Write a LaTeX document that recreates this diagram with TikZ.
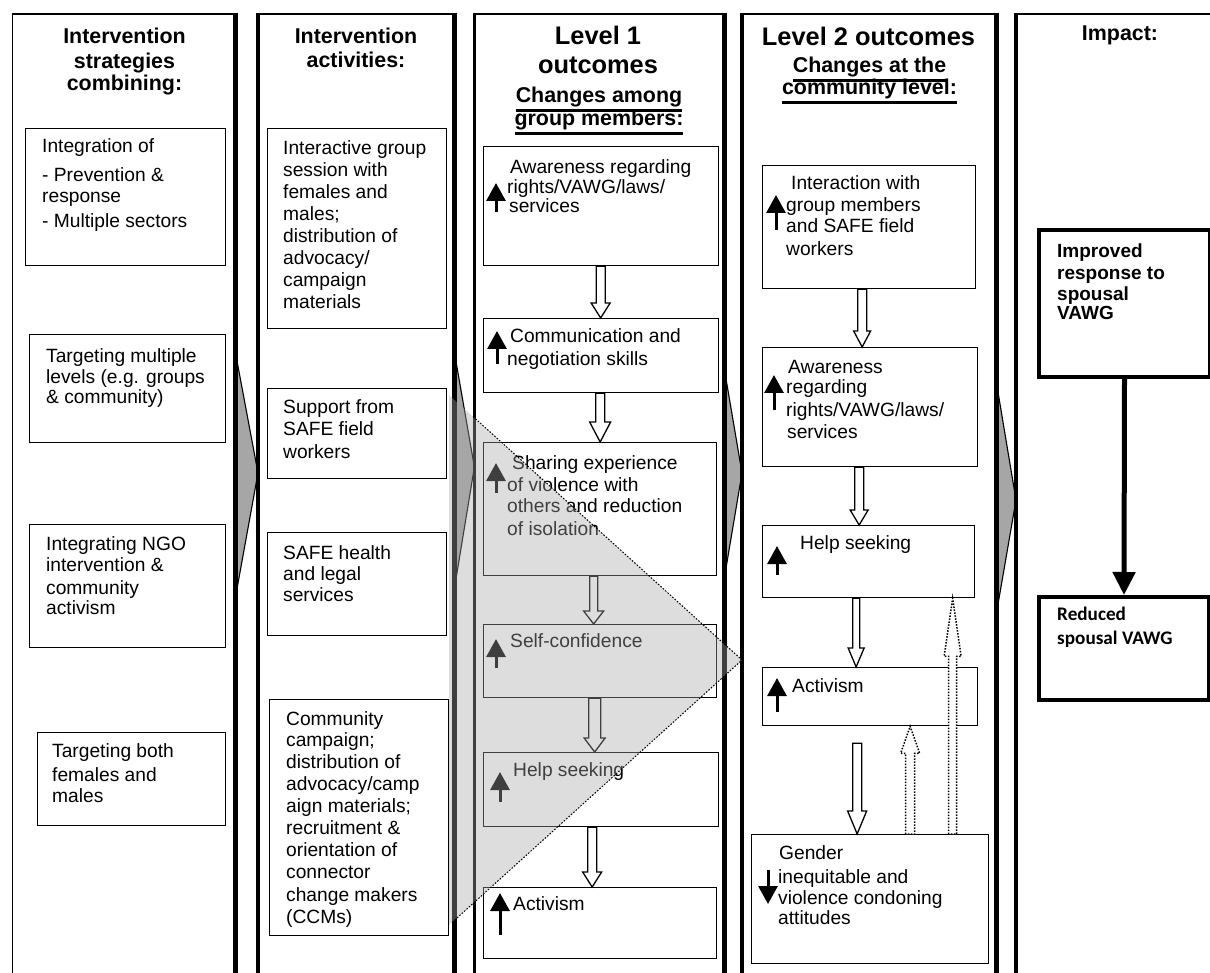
\documentclass[tikz,border=0pt]{standalone}
\usepackage{fontspec}
\setmainfont{Liberation Sans}
\newfontfamily\carlito{Carlito}
\usetikzlibrary{arrows.meta,calc}
\newsavebox\ulbox
\newcommand\thul[1]{\sbox\ulbox{#1}\rlap{\raisebox{-9.3pt}[0pt][0pt]{\rule{\wd\ulbox}{2.8pt}}}\usebox\ulbox}
\begin{document}
\begin{tikzpicture}[x=1pt,y=-1pt,
  box/.style={draw, fill=white, line width=1.3pt, inner sep=0pt, anchor=north west},
  ibox/.style={box, line width=4pt},
  txt/.style={anchor=base west, align=left, inner sep=0pt, font=\fontsize{19.2}{22}\selectfont},
  hdr/.style={anchor=base, align=center, inner sep=0pt, font=\bfseries\fontsize{21.4}{24}\selectfont},
  bighdr/.style={anchor=base, align=center, inner sep=0pt, font=\bfseries\fontsize{25.4}{29}\selectfont},
  chev/.style={draw=black, line width=1.1pt, fill=black!35},
  pan/.style={line width=2pt},
  panleft/.style={line width=4pt},
  panthick/.style={line width=5pt},
  hollow/.style={draw, fill=white, line width=1.3pt, line join=miter},
  dhollow/.style={draw, fill=white, line width=1.5pt, dash pattern=on 1.5pt off 1.5pt},
  icon/.style={line width=3pt, -{Triangle[width=19pt,length=18pt]}},
  blockdown/.style n args={3}{to path={let \p1=(\tikztostart), \p2=(\tikztotarget) in
     (\x1-#1pt,\y1) -- (\x1-#1pt,\y2+#3pt) -- (\x1-#2pt,\y2+#3pt) -- (\x1,\y2)
     -- (\x1+#2pt,\y2+#3pt) -- (\x1+#1pt,\y2+#3pt) -- (\x1+#1pt,\y1) -- cycle}},
  blockup/.style n args={3}{to path={let \p1=(\tikztostart), \p2=(\tikztotarget) in
     (\x1-#1pt,\y1) -- (\x1-#1pt,\y2-#3pt) -- (\x1-#2pt,\y2-#3pt) -- (\x1,\y2)
     -- (\x1+#2pt,\y2-#3pt) -- (\x1+#1pt,\y2-#3pt) -- (\x1+#1pt,\y1) -- cycle}},
]
\path[use as bounding box] (0,0) rectangle (1210,973);
\clip (0,0) rectangle (1210,973);
\fill[white] (0,0) rectangle (1210,973);

% chevrons between panels
\path[chev] (235.5,353) -- (258,473) -- (235.5,597);
\path[chev] (454.5,353) -- (474.4,467) -- (454.5,588);
\path[chev] (724,367) -- (742,473) -- (724,580);
\path[chev] (996.5,383) -- (1016,500) -- (996.5,613);

% panels (open at the bottom)
\draw[line width=1.8pt] (12.5,990) -- (12.5,13.8) -- (235.5,13.8);
\draw[panthick] (235.5,12.8) -- (235.5,990);
\draw[pan] (258,13.8) -- (454.5,13.8);
\draw[panleft] (258,12.8) -- (258,990);
\draw[panthick] (454.5,12.8) -- (454.5,990);
\draw[pan] (474.4,13.8) -- (724,13.8);
\draw[line width=3.5pt] (474.4,12.8) -- (474.4,990);
\draw[panthick] (724,12.8) -- (724,990);
\draw[pan] (742,13.8) -- (996.5,13.8);
\draw[panleft] (742,12.8) -- (742,990);
\draw[panthick] (996.5,12.8) -- (996.5,990);
\draw[pan] (1016,13.8) -- (1215,13.8);
\draw[panleft] (1016,12.8) -- (1016,990);

% headers (anchor = baseline of last line)
\node[hdr] (h1) at (124.5,90.5) {Intervention\\[1pt]strategies\\[-2pt]combining:};
\node[hdr] (h2) at (356,67.5) {Intervention\\activities:};
\node[bighdr] (h3) at (598,74) {Level 1\\outcomes};
\node[hdr] (h3s) at (599,126) {\thul{Changes among}\\[-1pt]\thul{group members:}};
\node[bighdr] (h4) at (868.5,46) {Level 2 outcomes};
\node[hdr] (h4s) at (869.5,95) {\thul{Changes at the}\\[-2pt]\thul{community level:}};
\node[hdr] (h5) at (1120,41) {Impact:};

% column 1 boxes
\node[box, minimum width=200pt, minimum height=137pt] (A) at (25,128) {};
\node[box, minimum width=196pt, minimum height=108pt] (B) at (29,334) {};
\node[box, minimum width=196pt, minimum height=123pt] (C) at (29,524) {};
\node[box, minimum width=188pt, minimum height=93pt] (D) at (37,732) {};
% column 2 boxes
\node[box, minimum width=179pt, minimum height=200pt] (E) at (267,128) {};
\node[box, minimum width=179pt, minimum height=90pt] (F) at (267,388) {};
\node[box, minimum width=179pt, minimum height=103pt] (G) at (267,532) {};
\node[box, minimum width=179pt, minimum height=236pt] (H) at (269,699) {};
% column 3 boxes
\node[box, minimum width=235pt, minimum height=119pt] (L1a) at (483,146) {};
\node[box, minimum width=235pt, minimum height=74pt] (L1b) at (483,318) {};
\node[box, minimum width=233pt, minimum height=133pt] (L1c) at (483,442) {};
\node[box, minimum width=233pt, minimum height=73pt] (L1d) at (483,624) {};
\node[box, minimum width=235pt, minimum height=74pt] (L1e) at (483,752) {};
\node[box, minimum width=233pt, minimum height=71pt] (L1f) at (483,887) {};
% column 4 boxes
\node[box, minimum width=213pt, minimum height=123pt] (L2a) at (762,165) {};
\node[box, minimum width=215pt, minimum height=119pt] (L2b) at (762,347) {};
\node[box, minimum width=212pt, minimum height=72pt] (L2c) at (762,525) {};
\node[box, minimum width=215pt, minimum height=58pt] (L2d) at (762,667) {};
\node[box, minimum width=237pt, minimum height=129pt] (L2e) at (751,834) {};
% column 5 boxes
\node[ibox, minimum width=171pt, minimum height=147pt] (I1) at (1037,228) {};
\node[ibox, minimum width=170pt, minimum height=103pt] (I2) at (1037,595) {};

% block arrows
\draw[hollow] ([xshift=-0.5pt]L1a.south) to[blockdown={4.5}{9.5}{15}] (L1b.north);
\draw[hollow] ([xshift=-1pt]L1b.south) to[blockdown={4.5}{10.5}{20}] (L1c.north);
\draw[hollow] ([xshift=-6.5pt]L1c.south) to[blockdown={4}{10}{13}] (L1d.north);
\draw[hollow] ([xshift=-5.5pt]L1d.south) to[blockdown={6}{10.5}{14}] (L1e.north);
\draw[hollow] ([xshift=-9pt]L1e.south) to[blockdown={4.5}{9.5}{15}] (L1f.north);
\draw[hollow] ([xshift=-7pt]L2a.south) to[blockdown={4.5}{8.5}{16}] (L2b.north);
\draw[hollow] ([xshift=-11pt]L2b.south) to[blockdown={4.5}{9}{15}] (L2c.north);
\draw[hollow] ([xshift=-12.5pt]L2c.south) to[blockdown={3.5}{8}{19}] (L2d.north);
\draw[hollow] ([xshift=-13pt,yshift=-17pt]L2d.south) to[blockdown={4.5}{9.5}{23}] (L2e.north);
\draw[dhollow] ([xshift=40pt]L2e.north) to[blockup={4.5}{9.5}{27}] (L2d.south);
\draw[dhollow] ([xshift=82.5pt]L2e.north) to[blockup={4}{8.5}{58}] (L2c.south);
\draw[line width=5pt, -{Triangle[width=22pt,length=23pt]}] (I1.south) -- (I2.north);

% texts column 1 (anchor = baseline of last line)
\node[txt] (tA) at (42,228) {Integration of\\[7pt]- Prevention \&\\[-1pt]response\\[3pt]- Multiple sectors};
\node[txt] (tB) at (46,403) {Targeting multiple\\[-1pt]levels (e.g. groups\\[-2pt]\& community)};
\node[txt] (tC) at (46,614) {Integrating NGO\\[-1pt]intervention \&\\[1pt]community\\[-2pt]activism};
\node[txt] (tD) at (52,802) {Targeting both\\[2pt]females and\\[-1pt]males};
% texts column 2
\node[txt] (tE) at (283,309) {Interactive group\\session with\\females and\\males;\\distribution of\\advocacy/\\campaign\\materials};
\node[txt] (tF) at (283,458) {Support from\\SAFE field\\[1pt]workers};
\node[txt] (tG) at (283,601) {SAFE health\\[-1pt]and legal\\[-1pt]services};
\node[txt] (tH) at (286,923) {Community\\[-1pt]campaign;\\distribution of\\advocacy/camp\\aign materials;\\recruitment \&\\orientation of\\connector\\[1pt]change makers\\(CCMs)};
% texts column 3
\node[txt] (t1a) at (507,213) {\hspace{3pt}Awareness regarding\\[-2pt]rights/VAWG/laws/\\[-3pt]\hspace{2pt}services};
\node[txt] (t1b) at (507,366) {\hspace{3pt}Communication and\\[1pt]negotiation skills};
\node[txt] (t1c) at (507,535.5) {\hspace{5pt}Sharing experience\\of violence with\\[-1pt]others and reduction\\[1.5pt]of isolation};
\node[txt] (t1d) at (510,647) {Self-confidence};
\node[txt] (t1e) at (513,776) {Help seeking};
\node[txt] (t1f) at (513,910) {Activism};
% texts column 4
\node[txt] (t2a) at (786,256) {\hspace{5pt}Interaction with\\group members\\[-1pt]and SAFE field\\[1pt]workers};
\node[txt] (t2b) at (786,438) {\hspace{2pt}Awareness\\[-1pt]regarding\\[1pt]rights/VAWG/laws/\\[-1pt]\hspace{1pt}services};
\node[txt] (t2c) at (800,549) {Help seeking};
\node[txt] (t2d) at (792,692) {Activism};
\node[txt] (t2e) at (778,924) {\hspace{1pt}Gender\\[2pt]inequitable and\\[-1pt]violence condoning\\[-2pt]attitudes};
% texts column 5
\node[txt, font=\bfseries\fontsize{19}{22}\selectfont] (tI1) at (1057,320) {Improved\\response to\\[-1pt]spousal\\[-3pt]VAWG};
\node[txt, font=\carlito\bfseries\fontsize{19.2}{22}\selectfont] (tI2) at (1057,644) {Reduced\\[2pt]spousal VAWG};

% up / down icons
\draw[icon] (496,212) -- (496,183);
\draw[icon] (497,364) -- (497,331);
\draw[icon] (496,493) -- (496,463);
\draw[icon] (496,668) -- (496,639);
\draw[icon] (500,802) -- (500,772);
\draw[icon] (500,935) -- (500,893);
\draw[icon] (776,230) -- (776,195);
\draw[icon] (774,410) -- (774,375);
\draw[icon] (777,575) -- (777,546);
\draw[icon] (777,712) -- (777,678);
\draw[icon] (768,870) -- (768,904);

% translucent overlay triangle
\fill[black!34, fill opacity=0.38] (449,395) -- (742,660) -- (449,925) -- cycle;
\draw[line width=1pt, dash pattern=on 1.6pt off 1.6pt] (473,416.5) -- (742,660) -- (452,922.5);
\end{tikzpicture}
\end{document}
